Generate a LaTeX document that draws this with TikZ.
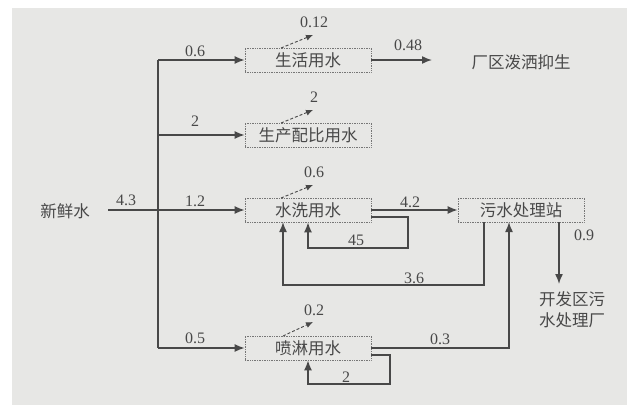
\documentclass[tikz,border=0pt]{standalone}
\usepackage{fontspec}
\setmainfont{Liberation Serif}
\newfontfamily\cjk{Noto Sans CJK SC}
\usetikzlibrary{arrows.meta}
\definecolor{bg}{HTML}{E7E7E5}
\definecolor{ln}{HTML}{484848}
\begin{document}
\begin{tikzpicture}[x=1pt,y=-1pt,
  box/.style={draw=ln!75,densely dotted,line width=0.7pt,minimum width=126pt,minimum height=24pt,inner sep=0pt,font=\cjk\fontsize{16.5}{18}\selectfont,text=ln},
  lbl/.style={font=\cjk\fontsize{16.5}{21}\selectfont,text=ln,inner sep=0pt,align=center},
  num/.style={font=\fontsize{16}{18}\selectfont,text=ln,inner sep=0pt},
  flow/.style={draw=ln,line width=1.5pt},
  arr/.style={flow,-{Latex[length=10pt,width=8pt]}},
  evap/.style={draw=ln,line width=0.9pt,densely dashed,-{Latex[length=7pt,width=6pt]}}]
\useasboundingbox (0,0) rectangle (627,405);
\fill[white] (0,0) rectangle (627,405);
\fill[bg] (12,8) rectangle (627,405);
% boxes
\node[box] (life) at (308,60) {生活用水};
\node[box] (prod) at (308,135) {生产配比用水};
\node[box] (wash) at (308,210) {水洗用水};
\node[box] (wwtp) at (521,210) {污水处理站};
\node[box] (spray) at (308,348) {喷淋用水};
% labels
\node[lbl] (fresh) at (65,211) {新鲜水};
\node[lbl] (yard) at (521,62) {厂区泼洒抑生};
\node[lbl] (dev) at (572,310) {开发区污\\水处理厂};
% coordinates
\coordinate (src) at (108,210);
\coordinate (j1) at (158,60);
\coordinate (j2) at (158,135);
\coordinate (j4) at (158,348);
\coordinate (lifeout) at (432,60);
\coordinate (devin) at (559,284);
% trunk and branches
\draw[flow] (j1) -- (j4);
\draw[arr] (j1) -- (life.west);
\draw[arr] (j2) -- (prod.west);
\draw[arr] (src) -- (wash.west);
\draw[arr] (j4) -- (spray.west);
\draw[arr] (life.east) -- (lifeout);
\draw[arr] (wash.east) -- (wwtp.west);
% loops
\draw[arr] (wash.east |- 0,217) -| (408,248) -| (wash.south);
\draw[arr] (wwtp.south -| 484,0) |- (283,285) -- (283,222);
\draw[arr] (devin |- wwtp.south) -- (devin);
\draw[arr] (spray.east) -| (509,222);
\draw[arr] (spray.east |- 0,355) -| (390,384) -| (spray.south);
% evaporation
\draw[evap] (281,48) -- (313,35);
\draw[evap] (281,123) -- (313,110);
\draw[evap] (281,198) -- (313,185);
\draw[evap] (283,336) -- (313,322);
% numbers
\node[num] at (314,22) {0.12};
\node[num] at (314,97) {2};
\node[num] at (314,172) {0.6};
\node[num] at (314,310) {0.2};
\node[num] at (195,51) {0.6};
\node[num] at (195,121) {2};
\node[num] at (126,200) {4.3};
\node[num] at (195,201) {1.2};
\node[num] at (195,338) {0.5};
\node[num] at (408,45) {0.48};
\node[num] at (410,202) {4.2};
\node[num] at (356,240) {45};
\node[num] at (414,278) {3.6};
\node[num] at (584,235) {0.9};
\node[num] at (440,339) {0.3};
\node[num] at (346,377) {2};
\end{tikzpicture}
\end{document}
